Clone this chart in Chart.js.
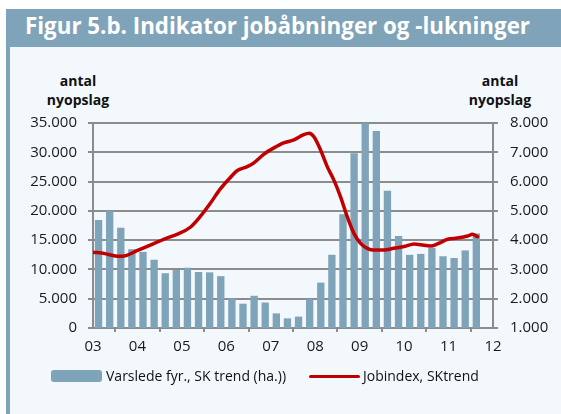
<!DOCTYPE html>
<html><head><meta charset="utf-8">
<script src="https://cdn.jsdelivr.net/npm/chart.js@4.4.1/dist/chart.umd.min.js"></script>
<style>
html,body{margin:0;padding:0;background:#fff;width:561px;height:414px;overflow:hidden;}
#frame{position:absolute;left:6px;top:9px;width:555px;height:405px;background:#f3f8fd;}
#strip{position:absolute;left:6px;top:9px;width:4px;height:405px;background:#7fa3b8;}
#title{position:absolute;left:6px;top:9px;width:555px;height:38px;background:#7fa3b8;}
#titleText{position:absolute;left:19px;top:0;line-height:38px;color:#fff;font:700 23px "Open Sans";white-space:nowrap;transform-origin:0 50%;}
.axt{position:absolute;font:700 14px "Open Sans";color:#111;text-align:center;line-height:19px;width:100px;}
#wrap{position:absolute;left:0;top:0;width:561px;height:414px;}
.leg{position:absolute;font:400 14px "Open Sans";color:#111;white-space:nowrap;line-height:18px;}
</style></head>
<body>
<div id="frame"></div>
<div id="strip"></div>
<div id="title"><span id="titleText">Figur 5.b. Indikator jobåbninger og -lukninger</span></div>
<div class="axt" style="left:28px;top:71px;">antal<br>nyopslag</div>
<div class="axt" style="left:450px;top:71px;">antal<br>nyopslag</div>
<div id="wrap"><canvas id="c" width="561" height="414"></canvas></div>
<div style="position:absolute;left:51px;top:370px;width:51px;height:12px;background:#7fa3b8;border-radius:3px;"></div>
<div class="leg" style="left:106px;top:367px;">Varslede fyr., SK trend (ha.))</div>
<div style="position:absolute;left:309px;top:374.5px;width:51px;height:3.5px;background:#c00000;border-radius:2px;"></div>
<div class="leg" style="left:363px;top:367px;">Jobindex, SKtrend</div>
<script>
// x-axis tick labels (years)
const yearLabels = ['03','04','05','06','07','08','09','10','11','12'];

// Bars: Varslede fyringer, SK trend (right axis), quarterly
const barQuarters = [
 '2003K1','2003K2','2003K3','2003K4','2004K1','2004K2','2004K3','2004K4',
 '2005K1','2005K2','2005K3','2005K4','2006K1','2006K2','2006K3','2006K4',
 '2007K1','2007K2','2007K3','2007K4','2008K1','2008K2','2008K3','2008K4',
 '2009K1','2009K2','2009K3','2009K4','2010K1','2010K2','2010K3','2010K4',
 '2011K1','2011K2','2011K3'];
const barValues = [
 4690,5000,4420,3690,3600,3330,2870,2980,
 3060,2910,2900,2770,2010,1830,2100,1870,
 1500,1330,1390,1990,2550,3500,4880,6970,
 8000,7730,5690,4140,3500,3530,3730,3450,
 3390,3650,4230];

// Line: Jobindex, SKtrend (left axis)
const lineDates = [2003.0,2003.27,2003.5,2003.65,2003.76,2003.99,2004.29,2004.59,2004.89,2005.19,
 2005.41,2005.64,2005.86,2006.09,2006.24,2006.47,2006.62,2006.84,2007.07,2007.29,
 2007.52,2007.74,2007.86,2007.97,2008.12,2008.27,2008.42,2008.57,2008.72,2008.87,
 2009.02,2009.17,2009.32,2009.55,2009.77,2010.0,2010.23,2010.38,2010.6,2010.75,
 2010.98,2011.2,2011.43,2011.54,2011.65];
const lineValues = [12950,12700,12300,12250,12400,13200,14150,15150,16000,17200,
 19000,21300,23700,25700,26850,27550,28200,29650,30750,31600,
 32100,33000,33250,32650,30400,27550,25250,22400,19000,16150,
 14450,13600,13300,13300,13600,13900,14350,14200,14000,14350,
 15150,15350,15700,16000,15600];

// fit title width
const tt = document.getElementById('titleText');
const w = tt.getBoundingClientRect().width;
tt.style.transform = 'scaleX(' + (505 / w) + ')';

Chart.defaults.font.family = '"Open Sans", sans-serif';
Chart.defaults.font.size = 15;
Chart.defaults.color = '#1a1a1a';

const fmt = v => Number(v).toLocaleString('de-DE');
const GRID = '#8c8c8c';

new Chart(document.getElementById('c'), {
  data: {
    datasets: [
      {
        type: 'line', label: 'Jobindex, SKtrend', yAxisID: 'yL', order: 0,
        data: lineDates.map((d, i) => ({x: d, y: lineValues[i]})),
        borderColor: '#c00000', borderWidth: 3.5, pointRadius: 0,
        cubicInterpolationMode: 'monotone', borderCapStyle: 'round', borderJoinStyle: 'round'
      },
      {
        type: 'bar', label: 'Varslede fyr., SK trend (ha.))', yAxisID: 'yR', order: 1,
        data: barQuarters.map((q, i) => ({x: +q.slice(0, 4) + (+q.slice(5) - 0.5) / 4, y: barValues[i]})),
        backgroundColor: '#7fa3b8', barPercentage: 0.66, categoryPercentage: 1
      }
    ]
  },
  options: {
    responsive: false, animation: false,
    layout: {padding: {top: 123, bottom: 56, left: 0, right: 0}},
    plugins: {legend: {display: false}, tooltip: {enabled: false}},
    scales: {
      x: {
        type: 'linear', min: 2003, max: 2012, offset: false,
        afterFit: s => { s.height = 30; },
        ticks: {stepSize: 1, padding: 6, maxRotation: 0, autoSkip: false,
                callback: v => yearLabels[Math.round(v - 2003)]},
        grid: {drawOnChartArea: false, drawTicks: true, tickLength: 4, color: GRID, lineWidth: 2},
        border: {color: GRID, width: 2}
      },
      yL: {
        position: 'left', min: 0, max: 35000,
        afterFit: s => { s.width = 93; },
        ticks: {stepSize: 5000, padding: 11, callback: v => fmt(v)},
        grid: {color: GRID, lineWidth: 2, tickLength: 5},
        border: {color: GRID, width: 2}
      },
      yR: {
        position: 'right', min: 1000, max: 8000,
        afterFit: s => { s.width = 68; },
        ticks: {stepSize: 1000, padding: 12, callback: v => fmt(v)},
        grid: {drawOnChartArea: false, color: GRID, lineWidth: 2, tickLength: 5},
        border: {color: GRID, width: 2}
      }
    }
  }
});
</script>
</body></html>
